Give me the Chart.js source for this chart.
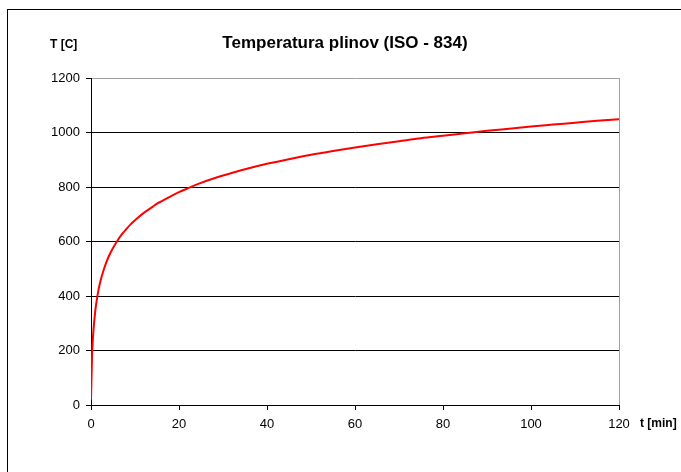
<!DOCTYPE html>
<html>
<head>
<meta charset="utf-8">
<script src="https://cdn.jsdelivr.net/npm/chart.js@4"></script>
<style>
  html, body { margin: 0; padding: 0; background: #fff; }
  #wrap { width: 681px; height: 472px; position: relative; }
</style>
</head>
<body>
<div id="wrap"><canvas id="chart" width="681" height="472"></canvas></div>
<script>
// time in minutes
const times = [0, 0.25, 0.5, 1, 1.5, 2, 3, 4, 5, 6, 7, 8, 9, 10, 12, 14, 15, 16, 18, 20, 22, 25, 28, 30, 35, 40, 45, 50, 55, 60, 65, 70, 75, 80, 85, 90, 95, 100, 105, 110, 115, 120];
// gas temperature in C
const temps = [20, 185, 261, 349, 404, 445, 502, 544, 576, 603, 626, 645, 663, 678, 705, 727, 739, 747, 765, 781, 795, 815, 832, 842, 865, 885, 902, 918, 932, 945, 957, 968, 979, 988, 997, 1006, 1014, 1022, 1029, 1036, 1043, 1049];
const xTicks = [0, 20, 40, 60, 80, 100, 120];
const yTicks = [0, 200, 400, 600, 800, 1000, 1200];

const FONT = '"Liberation Sans", Arial, sans-serif';

const decorations = {
  id: 'decorations',
  afterDraw(chart) {
    const c = chart.ctx;
    c.save();
    // outer frame
    c.strokeStyle = '#000';
    c.lineWidth = 1;
    c.strokeRect(7.5, 9.5, 700, 480);
    c.fillStyle = '#000';
    c.textBaseline = 'middle';
    c.textAlign = 'center';
    c.font = 'bold 17px ' + FONT;
    c.fillText('Temperatura plinov (ISO - 834)', 345, 43);
    c.textAlign = 'left';
    c.font = 'bold 12px ' + FONT;
    c.fillText('T [C]', 50, 45);
    c.fillText('t [min]', 640, 424);
    c.restore();
  }
};

const ctx = document.getElementById('chart').getContext('2d');
new Chart(ctx, {
  type: 'line',
  data: {
    datasets: [{
      data: times.map((t, i) => ({ x: t, y: temps[i] })),
      borderColor: '#ff0000',
      borderWidth: 2,
      pointRadius: 0,
      cubicInterpolationMode: 'monotone',
      fill: false
    }]
  },
  options: {
    responsive: false,
    animation: false,
    layout: { padding: { left: 0, top: 78, right: 62, bottom: 0 } },
    plugins: {
      legend: { display: false },
      title: { display: false },
      tooltip: { enabled: false }
    },
    scales: {
      x: {
        type: 'linear',
        min: 0,
        max: 120,
        afterFit(scale) { scale.height = 67; },
        afterBuildTicks(scale) { scale.ticks = xTicks.map(v => ({ value: v })); },
        grid: {
          drawOnChartArea: true,
          color: c => (c.tick && c.tick.value === 120 ? '#a0a0a0' : 'rgba(0,0,0,0)'),
          tickColor: '#000',
          tickLength: 5
        },
        border: { color: '#000', width: 1 },
        ticks: {
          color: '#000',
          font: { family: FONT, size: 13 },
          padding: 7,
          maxRotation: 0,
          callback: v => String(v)
        }
      },
      y: {
        min: 0,
        max: 1200,
        afterFit(scale) { scale.width = 91; },
        afterBuildTicks(scale) { scale.ticks = yTicks.map(v => ({ value: v })); },
        grid: {
          color: c => (c.tick && c.tick.value === 1200 ? '#a0a0a0' : '#000'),
          tickColor: '#000',
          tickLength: 5
        },
        border: { color: '#000', width: 1 },
        ticks: {
          color: '#000',
          font: { family: FONT, size: 13 },
          padding: 6,
          callback: v => String(v)
        }
      }
    }
  },
  plugins: [decorations]
});
</script>
</body>
</html>
